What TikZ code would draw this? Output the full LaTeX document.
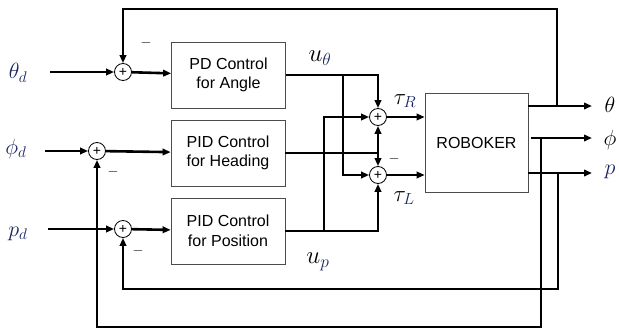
\RequirePackage{fix-cm}
\documentclass[tikz,border=0pt]{standalone}
\usepackage{fontspec}
\setmainfont{Liberation Sans}
\usetikzlibrary{arrows.meta}
\definecolor{navy}{rgb}{0.10,0.14,0.38}
\begin{document}
\begin{tikzpicture}[x=1pt,y=-1pt,
  ln/.style={line width=2.6pt},
  fb/.style={line width=2pt},
  ar/.style={-{Triangle[length=8pt,width=6.5pt]}},
  blk/.style={draw=black!70,line width=0.7pt,minimum width=114pt,minimum height=66pt,align=center,font=\fontsize{16}{19.5}\selectfont,inner sep=0pt},
  sumn/.style={circle,draw,line width=0.8pt,fill=white,minimum size=17pt,inner sep=0pt,font=\fontsize{14}{14}\selectfont},
  lab/.style={inner sep=0pt,font=\fontsize{22}{24}\selectfont},
  slab/.style={inner sep=0pt,font=\fontsize{25}{26}\selectfont},
  tlab/.style={inner sep=0pt,font=\fontsize{23}{24}\selectfont},
  mn/.style={inner sep=0pt,font=\fontsize{14}{14}\selectfont}]
\useasboundingbox (0,0) rectangle (619,332);
% blocks
\node[blk] (pd) at (228.5,75) {PD Control\\for Angle};
\node[blk] (pidh) at (228,153) {PID Control\\for Heading};
\node[blk] (pidp) at (228,231) {PID Control\\for Position};
\node[blk,minimum width=103pt,minimum height=99pt] (robo) at (476.5,142.5) {ROBOKER};
% summing junctions
\node[sumn] (s1) at (123,72) {+};
\node[sumn] (s2) at (97,151) {+};
\node[sumn] (s3) at (123,229) {+};
\node[sumn] (sR) at (378,117) {+};
\node[sumn] (sL) at (378,175) {+};
% inputs
\coordinate (inT) at (50,72);
\coordinate (inF) at (45,151);
\coordinate (inP) at (48,229);
\node[lab,text=navy] (lt) at (18,73) {$\theta_d$};
\node[lab,text=navy] (lf) at (16,149) {$\phi_d$};
\node[lab,text=navy] (lp) at (18,234) {$p_d$};
\draw[ln,ar] (inT) -- (s1);
\draw[ln,ar] (inF) -- (s2);
\draw[ln,ar] (inP) -- (s3);
\draw[ln,ar] (s1) -- (pd);
\draw[ln,ar] (s2) -- (pidh);
\draw[ln,ar] (s3) -- (pidp);
% u_theta
\coordinate (bT) at (343,75);
\draw[ln,ar] (pd.east) -| (sR.north);
\draw[ln,ar] (bT) |- (sL.west);
% heading
\coordinate (hj) at (378,153);
\draw[ln] (pidh.east) -- (hj);
\draw[ln,ar] (hj) -- (sR.south);
\draw[ln,ar] (hj) -- (sL.north);
% u_p
\coordinate (bP) at (324,231);
\draw[ln,ar] (pidp.east) -| (sL.south);
\draw[ln,ar] (bP) |- (sR.west);
% torques
\draw[ln,ar] (sR) -- (robo.west |- sR);
\draw[ln,ar] (sL) -- (robo.west |- sL);
% outputs
\coordinate (oT) at (592,106);
\coordinate (oF) at (592,138);
\coordinate (oP) at (592,173);
\draw[ln,ar] (robo.east |- oT) -- (oT);
\draw[ln,ar] ([xshift=3pt]robo.east |- oF) -- (oF);
\draw[ln,ar] (robo.east |- oP) -- (oP);
\node[lab] (lo1) at (610,105) {$\theta$};
\node[lab] (lo2) at (610,140) {$\phi$};
\node[lab,text=navy] (lo3) at (610,172) {$p$};
% feedback
\coordinate (fT) at (557,106);
\coordinate (fT2) at (557,9);
\draw[ln,ar] (fT) -- (fT2) -| (s1.north);
\coordinate (fF) at (541,138);
\coordinate (fF2) at (541,327);
\draw[fb,ar] (fF) -- (fF2) -| (s2.south);
\coordinate (fP) at (558,173);
\coordinate (fP2) at (558,289);
\draw[fb,ar] (fP) -- (fP2) -| (s3.south);
% minus signs
\node[mn] (m1) at (146,43) {$-$};
\node[mn] (m2) at (113,172) {$-$};
\node[mn] (m3) at (138,251) {$-$};
\node[mn] (m4) at (394,159) {$-$};
% signal labels
\node[slab] (uth) at (320,58) {$u_{\color{navy}\theta}$};
\node[slab] (up) at (318,262) {$u_{\color{navy}p}$};
\node[tlab] (tR) at (405,101) {$\tau_{\color{navy}R}$};
\node[tlab] (tL) at (404,198) {$\tau_{\color{navy}L}$};
\end{tikzpicture}
\end{document}
